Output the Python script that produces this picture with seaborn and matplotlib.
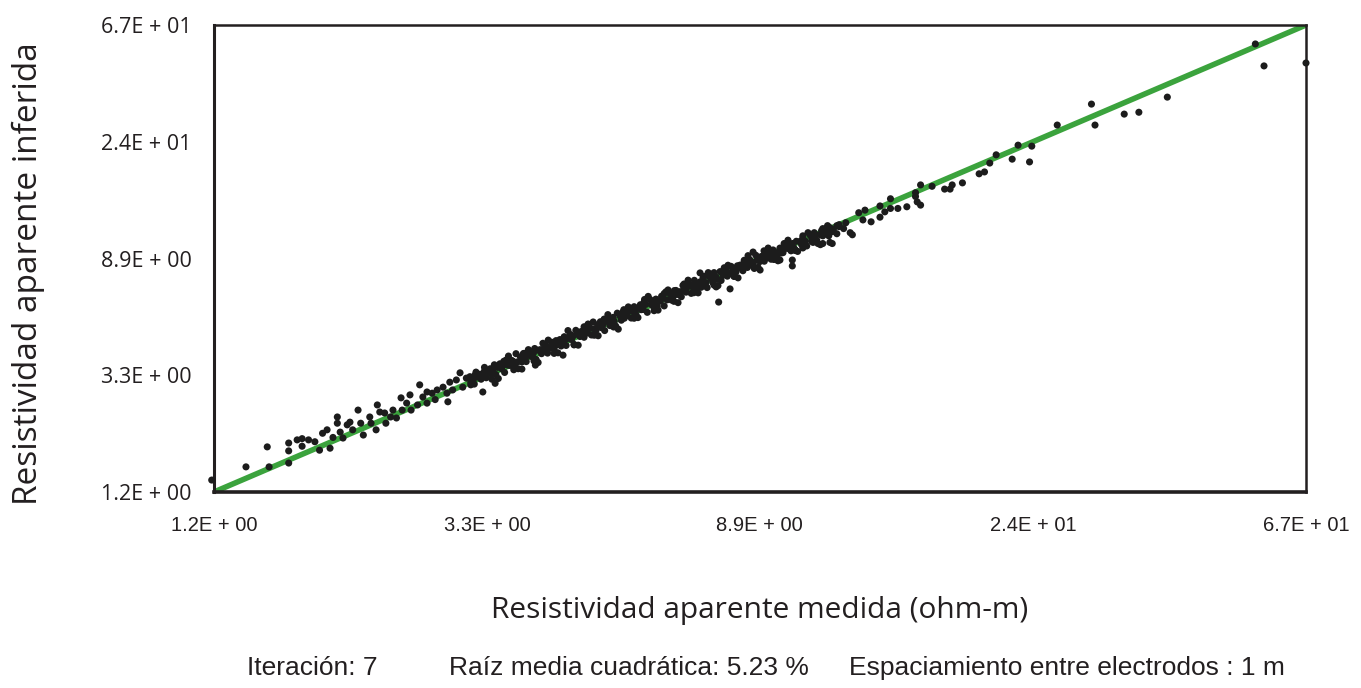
import matplotlib
matplotlib.use("Agg")
import matplotlib.pyplot as plt
import seaborn as sns
import pandas as pd

# style
sns.set_theme(style="white")
plt.rcParams['font.family'] = ['Open Sans', 'DejaVu Sans']
narrow = ['Liberation Sans', 'DejaVu Sans']
ink = "#231f20"

# data (apparent resistivity, ohm-m)
measured_low = [1.19, 1.35, 1.46, 1.47, 1.58, 1.58, 1.58, 1.63, 1.66, 1.66,
                1.70, 1.74, 1.77, 1.79, 1.82, 1.84, 1.86, 1.89, 1.89, 1.91,
                1.93, 1.96, 1.98, 2.00, 2.04, 2.06, 2.08, 2.13, 2.14, 2.18,
                2.19, 2.21, 2.25, 2.26, 2.30, 2.32, 2.35, 2.39, 2.40, 2.44,
                2.47, 2.48, 2.54, 2.56, 2.59, 2.63, 2.63, 2.68, 2.71, 2.73,
                2.79, 2.83, 2.86, 2.89, 2.93, 2.97, 3.00, 3.04, 3.09, 3.14]
inferred_low = [1.33, 1.49, 1.77, 1.49, 1.54, 1.71, 1.83, 1.88, 1.90, 1.78,
                1.88, 1.85, 1.72, 1.99, 2.05, 1.75, 1.92, 2.29, 2.17, 2.01,
                1.91, 2.14, 2.19, 2.05, 2.43, 2.17, 1.96, 2.29, 2.17, 2.05,
                2.54, 2.39, 2.37, 2.17, 2.29, 2.43, 2.27, 2.70, 2.43, 2.58,
                2.77, 2.43, 2.54, 3.02, 2.72, 2.84, 2.58, 2.81, 2.66, 2.89,
                2.96, 2.81, 3.09, 2.89, 3.15, 3.35, 2.96, 3.20, 3.02, 3.29]

measured_band = [3.08, 3.09, 3.12, 3.13, 3.15, 3.17, 3.20, 3.21, 3.23, 3.25,
                 3.27, 3.29, 3.32, 3.33, 3.35, 3.37, 3.39, 3.41, 3.44, 3.46,
                 3.48, 3.50, 3.52, 3.54, 3.57, 3.59, 3.61, 3.63, 3.65, 3.67,
                 3.71, 3.73, 3.75, 3.77, 3.79, 3.81, 3.85, 3.87, 3.89, 3.91,
                 3.93, 3.95, 3.99, 4.01, 4.03, 4.05, 4.08, 4.10, 4.14, 4.16,
                 4.18, 4.20, 4.23, 4.25,
                 4.29, 4.31, 4.34, 4.36, 4.39, 4.41, 4.46, 4.48, 4.50, 4.52,
                 4.55, 4.57, 4.62, 4.64, 4.67, 4.69, 4.72, 4.75, 4.80, 4.82,
                 4.85, 4.87, 4.90, 4.93, 4.98, 5.00, 5.03, 5.06, 5.09, 5.11,
                 5.16, 5.18, 5.22, 5.24, 5.27, 5.30, 5.36, 5.38, 5.41, 5.44,
                 5.47, 5.50, 5.56, 5.58, 5.62, 5.64, 5.68, 5.71, 5.77, 5.79,
                 5.83, 5.86, 5.89, 5.92, 5.98, 6.01, 6.05, 6.08, 6.11, 6.14,
                 6.21, 6.24, 6.27, 6.30, 6.34, 6.37, 6.44, 6.47, 6.51, 6.54,
                 6.58, 6.61, 6.68, 6.71, 6.75, 6.78, 6.83, 6.86, 6.93, 6.96,
                 7.00, 7.04, 7.08, 7.11,
                 7.19, 7.22, 7.27, 7.30, 7.35, 7.38, 7.46, 7.49, 7.54, 7.57,
                 7.63, 7.66, 7.74, 7.77, 7.83, 7.86, 7.91, 7.95, 8.03, 8.06,
                 8.12, 8.15, 8.21, 8.25, 8.33, 8.36, 8.42, 8.46, 8.52, 8.56,
                 8.64, 8.68, 8.74, 8.78, 8.83, 8.87, 8.97, 9.01, 9.07, 9.11,
                 9.17, 9.21, 9.30, 9.34, 9.41, 9.45, 9.51, 9.55, 9.65, 9.69,
                 9.76, 9.80, 9.87, 9.91, 10.0, 10.05, 10.1, 10.15, 10.2, 10.25,
                 10.4, 10.45, 10.5, 10.55, 10.6, 10.65, 10.8, 10.85, 10.9, 10.95,
                 11.0, 11.05, 11.2, 11.25, 11.3, 11.35, 11.5, 11.55, 11.6, 11.65,
                 11.7, 11.75, 11.9, 12.0, 12.3]
inferred_band = [3.24, 3.08, 3.17, 3.04, 3.37, 3.23, 3.31, 3.17, 3.26, 3.40,
                 3.21, 3.38, 3.47, 3.32, 3.41, 3.59, 3.30, 3.51, 3.62, 3.47,
                 3.57, 3.36, 3.74, 3.58, 3.57, 3.73, 3.70, 3.55, 3.95, 3.68,
                 3.84, 3.68, 3.95, 3.81, 3.69, 3.89, 4.02, 3.85, 3.96, 4.13,
                 3.76, 4.07, 4.09, 3.95, 4.32, 4.07, 4.22, 3.97, 4.14, 4.36,
                 4.29, 4.11, 4.42, 4.27,
                 4.46, 4.22, 4.38, 4.57, 4.24, 4.50, 4.66, 4.46, 4.58, 4.28,
                 4.83, 4.67, 4.58, 4.78, 4.75, 4.55, 4.97, 4.72, 4.92, 4.64,
                 5.19, 4.89, 4.82, 5.07, 5.20, 4.94, 5.08, 4.82, 5.22, 5.36,
                 5.03, 5.25, 5.40, 5.22, 5.01, 5.60, 5.45, 5.27, 5.65, 5.36,
                 5.47, 5.61, 5.75, 5.37, 5.67, 5.92, 5.53, 5.83, 6.02, 5.77,
                 5.78, 6.30, 6.04, 5.64, 6.30, 6.03, 5.95, 6.21, 6.32, 5.95,
                 6.21, 6.48, 6.38, 5.96, 6.73, 6.28, 6.61, 6.27, 6.45, 6.80,
                 6.81, 6.58, 6.74, 6.45, 7.11, 6.86, 6.71, 7.01, 7.17, 6.64,
                 7.00, 7.43, 7.26, 6.96,
                 7.33, 7.00, 7.59, 7.27, 7.28, 6.98, 7.65, 7.53, 7.28, 7.94,
                 7.63, 7.50, 8.01, 7.42, 7.76, 7.96, 8.12, 7.70, 7.89, 8.38,
                 8.19, 7.71, 8.00, 8.42, 8.47, 8.26, 8.07, 8.71, 8.52, 8.30,
                 8.86, 8.49, 8.66, 8.23, 9.22, 8.83, 8.74, 9.12, 9.15, 8.76,
                 9.01, 9.49, 9.30, 8.91, 9.65, 9.25, 9.42, 9.03, 9.81, 9.40,
                 9.43, 9.85, 10.2, 9.78, 9.83, 9.58, 10.2, 9.84, 9.69, 10.4,
                 10.4, 10.1, 10.7, 10.1, 10.4, 9.99, 10.9, 10.4, 10.6, 11.2,
                 11.0, 10.5, 11.0, 11.4, 10.9, 11.3, 11.4, 10.9, 11.7, 11.3,
                 11.3, 11.5, 11.9, 11.8, 12.2]

# wider edge of the dense band
measured_edge = [3.25, 3.42, 3.55, 3.68, 3.82, 3.96, 4.11, 4.26, 4.42, 4.59,
                 4.76, 4.94, 5.12, 5.32, 5.52, 5.72, 5.94, 6.16, 6.39, 6.63,
                 6.88, 7.14, 7.41, 7.68, 7.97, 8.27, 8.58, 8.90, 9.24, 9.58,
                 9.94, 10.3, 10.7, 11.1, 11.5, 11.9,
                 3.34, 3.49, 3.62, 3.76, 3.90, 4.05, 4.20, 4.36, 4.52, 4.69,
                 4.87, 5.05, 5.23, 5.43, 5.64, 5.85, 6.07, 6.30, 6.53, 6.78,
                 7.03, 7.30, 7.57, 7.86, 8.15, 8.46, 8.77, 9.10, 9.44, 9.80,
                 10.2, 10.5, 10.9, 11.3]
inferred_edge = [3.51, 3.19, 3.87, 3.47, 4.09, 3.66, 4.44, 3.98, 4.82, 4.25,
                 5.10, 4.61, 5.53, 4.88, 5.91, 5.39, 6.47, 5.75, 6.84, 6.13,
                 7.44, 6.67, 7.94, 7.10, 8.46, 7.59, 9.19, 8.31, 9.81, 8.79,
                 10.5, 9.53, 11.2, 10.2, 11.9, 11.1,
                 3.17, 3.70, 3.44, 3.96, 3.71, 4.26, 3.96, 4.55, 4.26, 4.98,
                 4.63, 5.32, 4.97, 5.77, 5.36, 6.16, 5.72, 6.63, 6.20, 7.20,
                 6.68, 7.69, 7.13, 8.28, 7.68, 8.83, 8.33, 9.58, 8.89, 10.2,
                 9.61, 10.9, 10.3, 11.6]

measured_out = [3.23, 3.38, 2.84, 3.92, 4.34, 3.73, 7.70, 8.03, 7.63, 10.1,
                10.1, 9.65, 8.97, 7.19, 8.74, 12.6, 11.7, 11.3, 10.5]
inferred_out = [2.84, 3.06, 2.61, 3.58, 3.90, 3.46, 6.16, 6.90, 7.02, 8.85,
                8.41, 8.85, 8.12, 7.92, 9.48, 11.0, 10.2, 10.2, 9.82]

measured_high = [12.5, 12.2, 12.0, 11.6, 11.2, 12.9, 13.1, 13.2, 13.5, 13.95,
                 13.95, 14.2, 14.5, 14.5, 14.9, 15.4, 15.9, 15.9, 16.0, 16.2,
                 16.2, 16.9, 17.7, 18.06, 18.2, 18.9, 20.1, 20.5, 20.9, 21.4,
                 22.7, 24.2, 24.4, 23.2, 26.8, 30.4, 30.8, 34.3, 36.2, 40.2,
                 55.6, 57.4, 67.0]
inferred_high = [11.2, 11.6, 12.0, 10.3, 10.1, 13.3, 12.5, 13.6, 12.3, 14.1,
                 12.8, 13.4, 15.0, 13.8, 13.8, 14.0, 15.8, 15.3, 14.6, 14.2,
                 16.9, 16.7, 16.3, 16.3, 16.9, 17.2, 18.6, 18.9, 20.4, 21.9,
                 21.1, 20.6, 23.6, 23.8, 28.3, 33.9, 28.3, 31.1, 31.6, 36.0,
                 56.9, 47.1, 48.3]

axis_limits = [1.2, 67.0]
tick_values = [1.2, 3.28, 8.96, 24.5, 67.0]
tick_labels = ["1.2E + 00", "3.3E + 00", "8.9E + 00", "2.4E + 01", "6.7E + 01"]

df = pd.DataFrame({
    "medida": measured_low + measured_band + measured_edge + measured_out + measured_high,
    "inferida": inferred_low + inferred_band + inferred_edge + inferred_out + inferred_high,
})
ref = pd.DataFrame({"x": axis_limits, "y": axis_limits})

fig = plt.figure(figsize=(13.61, 6.88), dpi=100)
ax = fig.add_axes([214 / 1361, 1 - 492 / 688, 1092 / 1361, 467 / 688])

sns.lineplot(ax=ax, data=ref, x="x", y="y", color="#3ba33d", linewidth=4.0, zorder=2)
sns.scatterplot(ax=ax, data=df, x="medida", y="inferida", color="#1c1c1c", s=26,
                edgecolor="none", zorder=3, clip_on=False)

ax.set_xscale("log")
ax.set_yscale("log")
ax.set_xlim(axis_limits)
ax.set_ylim(axis_limits)
ax.minorticks_off()
ax.set_xticks(tick_values)
ax.set_xticklabels(tick_labels, fontsize=14.5, family=narrow, color=ink)
ax.set_yticks(tick_values)
ax.set_yticklabels(tick_labels, fontsize=15.5, color=ink)
ax.tick_params(axis="x", direction="out", length=7, width=1, pad=10, colors=ink)
ax.tick_params(axis="y", direction="out", length=11, width=1.6, pad=5, colors=ink)

for side in ["top", "right", "left", "bottom"]:
    ax.spines[side].set_visible(True)
    ax.spines[side].set_color(ink)
    ax.spines[side].set_linewidth(1.8)
ax.spines["bottom"].set_linewidth(2.6)
ax.spines["left"].set_linewidth(2.2)

ax.set_xlabel("Resistividad aparente medida (ohm-m)", fontsize=21.5, color=ink, labelpad=44)
ax.set_ylabel("Resistividad aparente inferida", fontsize=24, color=ink, va="center")
ax.yaxis.set_label_coords(-0.170, 0.467)

footer_y = 1 - 668 / 688
fig.text(247 / 1361, footer_y, "Iteración: 7", fontsize=19, family=narrow,
         color=ink, va="center", ha="left")
fig.text(449 / 1361, footer_y, "Raíz media cuadrática: 5.23 %", fontsize=19,
         family=narrow, color=ink, va="center", ha="left")
fig.text(849 / 1361, footer_y, "Espaciamiento entre electrodos : 1 m", fontsize=19,
         family=narrow, color=ink, va="center", ha="left")

fig.savefig("out.png", dpi=100, facecolor="white")
